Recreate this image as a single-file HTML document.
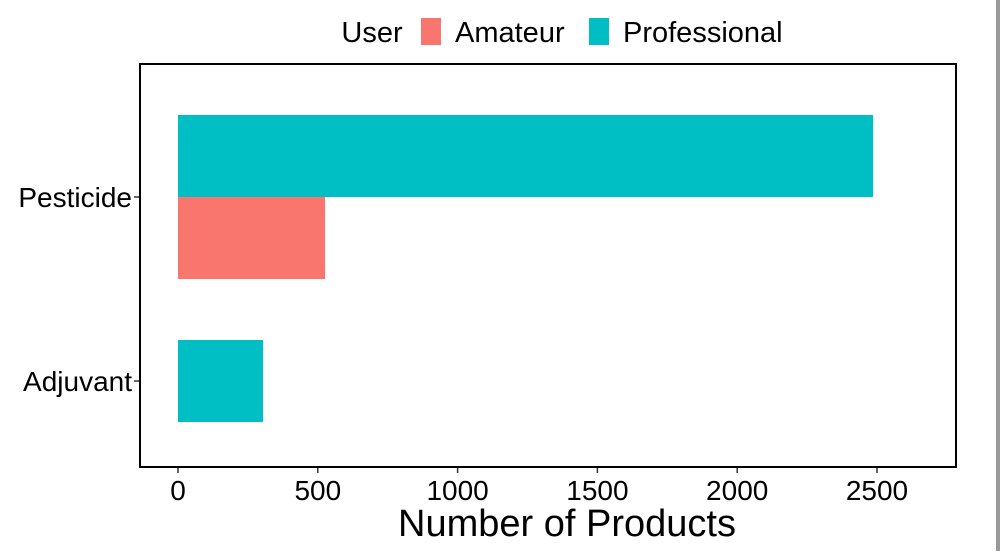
<!DOCTYPE html>
<html><head><meta charset="utf-8"><style>
body{margin:0;background:#fff;width:1000px;height:551px;overflow:hidden;font-family:"Liberation Sans",sans-serif}
</style></head><body>
<svg width="1000" height="551" xmlns="http://www.w3.org/2000/svg">
<rect x="996" y="0" width="4" height="551" fill="#9a9a9a"/>
<g id="g"></g>
<rect x="140" y="64" width="816" height="403" fill="none" stroke="#000" stroke-width="2"/>
<text x="372" y="42" font-size="29" text-anchor="middle">User</text>
<rect x="421" y="18" width="20" height="27" fill="#F8766D"/>
<text x="455" y="42" font-size="29">Amateur</text>
<rect x="589" y="18" width="20" height="27" fill="#00BFC4"/>
<text x="623" y="42" font-size="29">Professional</text>
<text x="567" y="536" font-size="38" text-anchor="middle">Number of Products</text>
</svg>
<script>
const categories=["Pesticide","Adjuvant"];
const amateur=[526,0];
const professional=[2486,304];
const ticks=[0,500,1000,1500,2000,2500];
const ns="http://www.w3.org/2000/svg";
const g=document.getElementById('g');
const x=v=>178+v*(699/2500);
const yc=i=>197+i*184;
const half=82;
function mk(t,a){const e=document.createElementNS(ns,t);for(const k in a)e.setAttribute(k,a[k]);g.appendChild(e);return e;}
categories.forEach((c,i)=>{
  if(professional[i]>0){
    const w=amateur[i]>0?half:half;
    const y0=amateur[i]>0?yc(i)-half:yc(i)-half/2-0;
    const r=mk('rect',{x:x(0),y:amateur[i]>0?yc(i)-half:yc(i)-41,width:x(professional[i])-x(0),height:w,fill:'#00BFC4'});
    
    
  }
  if(amateur[i]>0){
    const r=mk('rect',{x:x(0),y:yc(i),width:x(amateur[i])-x(0),height:half,fill:'#F8766D'});
    
    
  }
  const tk=mk('line',{x1:134,x2:140,y1:yc(i),y2:yc(i),stroke:'#333','stroke-width':1.5});
  
  
  const t=mk('text',{x:132,y:yc(i)+10,'font-size':28,'text-anchor':'end'});
  t.textContent=c;
  
  
});
ticks.forEach(v=>{
  const tk=mk('line',{x1:x(v),x2:x(v),y1:467,y2:473,stroke:'#333','stroke-width':1.5});
  
  
  const t=mk('text',{x:x(v),y:500,'font-size':28,'text-anchor':'middle'});
  t.textContent=v;
  
  
});
</script>
</body></html>
